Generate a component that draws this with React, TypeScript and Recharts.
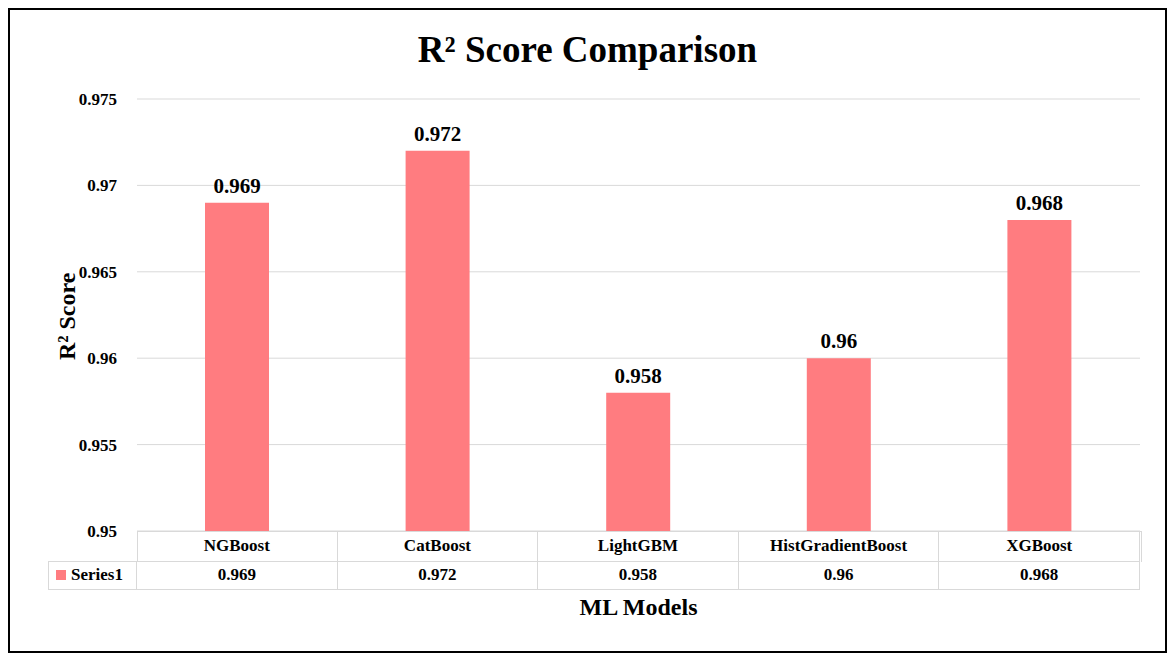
import { BarChart, Bar, XAxis, YAxis, CartesianGrid, LabelList } from 'recharts';

const models = ['NGBoost', 'CatBoost', 'LightGBM', 'HistGradientBoost', 'XGBoost'];
const scores = [0.969, 0.972, 0.958, 0.96, 0.968];
const yTicks = [0.95, 0.955, 0.96, 0.965, 0.97, 0.975];
const seriesName = 'Series1';

const data = models.map((m, i) => ({ model: m, score: scores[i] }));

const FONT = '"Liberation Serif", "Times New Roman", serif';
const BAR = '#FF7C80';
const LINE = '#d9d9d9';

// plot area in page pixels
const PL = 137;
const PR = 1140;
const PT = 99;
const PB = 531;
const ROW = 29.5;

export default function App() {
  const colW = (PR - PL) / models.length;
  return (
    <div style={{ position: 'absolute', left: 0, top: 0, width: 1175, height: 661, background: '#fff', fontFamily: FONT }}>
      <div style={{ position: 'absolute', left: 8, top: 8, width: 1155, height: 641, border: '2px solid #000' }} />
      <div style={{ position: 'absolute', left: 0, top: 28, width: 1175, textAlign: 'center', fontSize: 37, fontWeight: 'bold' }}>
        R² Score Comparison
      </div>
      <div style={{ position: 'absolute', left: 0, top: 0 }}>
        <BarChart width={1175} height={661} data={data}
          margin={{ top: PT, bottom: 661 - PB, left: PL - 70, right: 1175 - PR }}>
          <CartesianGrid vertical={false} stroke={LINE} />
          <XAxis dataKey="model" hide />
          <YAxis width={70} domain={[0.95, 0.975]} ticks={yTicks} axisLine={false} tickLine={false}
            tick={{ fill: '#000', fontFamily: FONT, fontWeight: 'bold', fontSize: 17 }} tickMargin={14}
            label={{ value: 'R² Score', angle: -90, position: 'insideLeft', dx: -6, dy: 45,
              style: { fill: '#000', fontFamily: FONT, fontWeight: 'bold', fontSize: 24 } }} />
          <Bar dataKey="score" fill={BAR} barSize={64} isAnimationActive={false}>
            <LabelList dataKey="score" position="top" offset={10}
              style={{ fill: '#000', fontFamily: FONT, fontWeight: 'bold', fontSize: 21 }} />
          </Bar>
        </BarChart>
      </div>
      {/* data table */}
      <div style={{ position: 'absolute', left: PL, top: PB, width: PR - PL, height: ROW, borderLeft: `1px solid ${LINE}`, borderRight: `1px solid ${LINE}`, borderTop: `1px solid ${LINE}` }} />
      {models.map((m, i) => (
        <div key={m} style={{ position: 'absolute', left: PL + i * colW, top: PB, width: colW, height: ROW, borderRight: `1px solid ${LINE}`, boxSizing: 'border-box', display: 'flex', alignItems: 'center', justifyContent: 'center', fontWeight: 'bold', fontSize: 17 }}>{m}</div>
      ))}
      <div style={{ position: 'absolute', left: 48, top: PB + ROW, width: PR - 48, height: ROW, border: `1px solid ${LINE}`, boxSizing: 'border-box' }} />
      <div style={{ position: 'absolute', left: 48, top: PB + ROW, width: PL - 48, height: ROW, borderRight: `1px solid ${LINE}`, boxSizing: 'border-box', display: 'flex', alignItems: 'center', fontWeight: 'bold', fontSize: 17 }}>
        <span style={{ display: 'inline-block', width: 10, height: 10, background: BAR, margin: '0 5px 0 8px' }} />{seriesName}
      </div>
      {scores.map((s, i) => (
        <div key={i} style={{ position: 'absolute', left: PL + i * colW, top: PB + ROW, width: colW, height: ROW, borderRight: `1px solid ${LINE}`, boxSizing: 'border-box', display: 'flex', alignItems: 'center', justifyContent: 'center', fontWeight: 'bold', fontSize: 17 }}>{String(s)}</div>
      ))}
      <div style={{ position: 'absolute', left: PL, top: 594, width: PR - PL, textAlign: 'center', fontWeight: 'bold', fontSize: 24 }}>ML Models</div>
    </div>
  );
}
